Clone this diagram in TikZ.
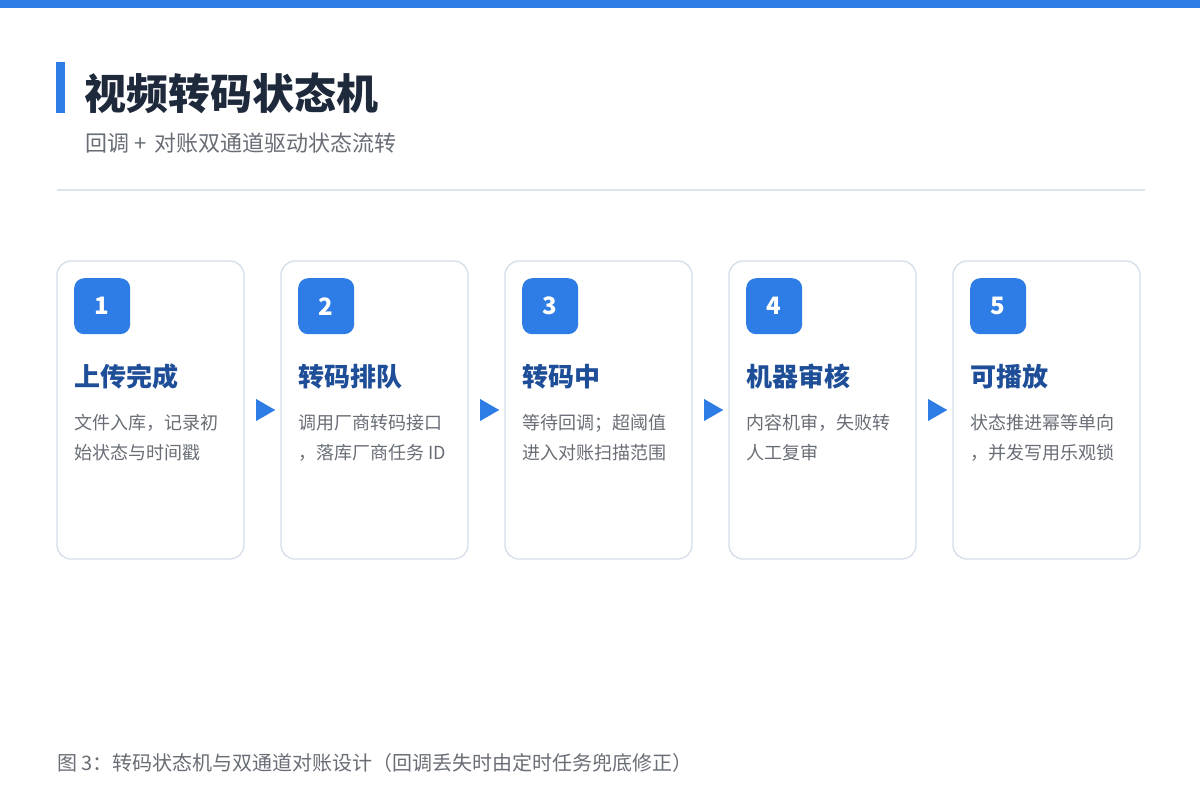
\documentclass[tikz,border=0pt]{standalone}
\usepackage{fontspec}
\setmainfont{Noto Sans CJK SC}
\usepackage{xcolor}
\definecolor{primaryblue}{RGB}{46, 124, 230}
\definecolor{titledark}{RGB}{30, 41, 59}
\definecolor{steptitle}{RGB}{31, 78, 152}
\definecolor{textgray}{RGB}{105, 110, 118}
\definecolor{cardline}{RGB}{214, 222, 234}
\definecolor{ruleline}{RGB}{218, 228, 240}
\usetikzlibrary{shapes.geometric,positioning,calc}

\begin{document}
\begin{tikzpicture}[x=1pt, y=-1pt, node distance=37pt,
    card/.style={rectangle, draw=cardline, line width=1.3pt, rounded corners=14pt, fill=white,
        minimum width=187pt, minimum height=298pt, inner sep=0pt, outer sep=0pt},
    badge/.style={rectangle, fill=primaryblue, rounded corners=10pt, minimum size=56pt,
        inner sep=0pt, text=white, font=\fontsize{24}{24}\selectfont\bfseries},
    steptitle/.style={anchor=west, inner sep=0pt, text=steptitle, font=\fontsize{26}{26}\selectfont\bfseries},
    stepdesc/.style={anchor=north west, inner sep=0pt, align=left, text=textgray,
        font=\fontsize{18}{30}\selectfont},
    tri/.style={isosceles triangle, fill=primaryblue, inner sep=0pt,
        minimum height=19pt, minimum width=22pt, isosceles triangle apex angle=60}]
    \useasboundingbox[fill=white] (0,0) rectangle (1200,800);
    % header
    \fill[primaryblue] (0,0) rectangle (1200,8);
    \fill[primaryblue] (56,62) rectangle (65,113);
    \node[anchor=west, inner sep=0pt, text=titledark, font=\fontsize{42}{42}\selectfont\bfseries] (title) at (84,93) {视频转码状态机};
    \node[anchor=west, inner sep=0pt, text=textgray, font=\fontsize{22}{22}\selectfont] (subtitle) at (85,143) {回调\hspace{5pt}+\hspace{8pt}对账双通道驱动状态流转};
    \draw[ruleline, line width=1.5pt] (57,190) -- (1145,190);

    % cards
    \node[card] (card1) at (150.5,410) {};
    \node[card, right=of card1] (card2) {};
    \node[card, right=of card2] (card3) {};
    \node[card, right=of card3] (card4) {};
    \node[card, right=of card4] (card5) {};

    \node[badge, below right=17pt and 17pt of card1.north west, anchor=north west] (num1) {1};
    \node[badge, below right=17pt and 17pt of card2.north west, anchor=north west] (num2) {2};
    \node[badge, below right=17pt and 17pt of card3.north west, anchor=north west] (num3) {3};
    \node[badge, below right=17pt and 17pt of card4.north west, anchor=north west] (num4) {4};
    \node[badge, below right=17pt and 17pt of card5.north west, anchor=north west] (num5) {5};

    \node[steptitle] (name1) at ($(num1.south west)+(0,42)$) {上传完成};
    \node[steptitle] (name2) at ($(num2.south west)+(0,42)$) {转码排队};
    \node[steptitle] (name3) at ($(num3.south west)+(0,42)$) {转码中};
    \node[steptitle] (name4) at ($(num4.south west)+(0,42)$) {机器审核};
    \node[steptitle] (name5) at ($(num5.south west)+(0,42)$) {可播放};

    \node[stepdesc] (desc1) at ($(num1.south west)+(0,80)$) {文件入库，记录初\\始状态与时间戳};
    \node[stepdesc] (desc2) at ($(num2.south west)+(0,80)$) {调用厂商转码接口\\，落库厂商任务 ID};
    \node[stepdesc] (desc3) at ($(num3.south west)+(0,80)$) {等待回调；超阈值\\进入对账扫描范围};
    \node[stepdesc] (desc4) at ($(num4.south west)+(0,80)$) {内容机审，失败转\\人工复审};
    \node[stepdesc] (desc5) at ($(num5.south west)+(0,80)$) {状态推进幂等单向\\，并发写用乐观锁};

    % arrows between cards
    \node[tri] (arrow12) at ($(card1.east)!0.5!(card2.west)$) {};
    \node[tri] (arrow23) at ($(card2.east)!0.5!(card3.west)$) {};
    \node[tri] (arrow34) at ($(card3.east)!0.5!(card4.west)$) {};
    \node[tri] (arrow45) at ($(card4.east)!0.5!(card5.west)$) {};

    % caption
    \node[anchor=west, inner sep=0pt, text=textgray, font=\fontsize{20}{20}\selectfont] (caption) at (57,763) {图 3：转码状态机与双通道对账设计（回调丢失时由定时任务兜底修正）};
\end{tikzpicture}
\end{document}
